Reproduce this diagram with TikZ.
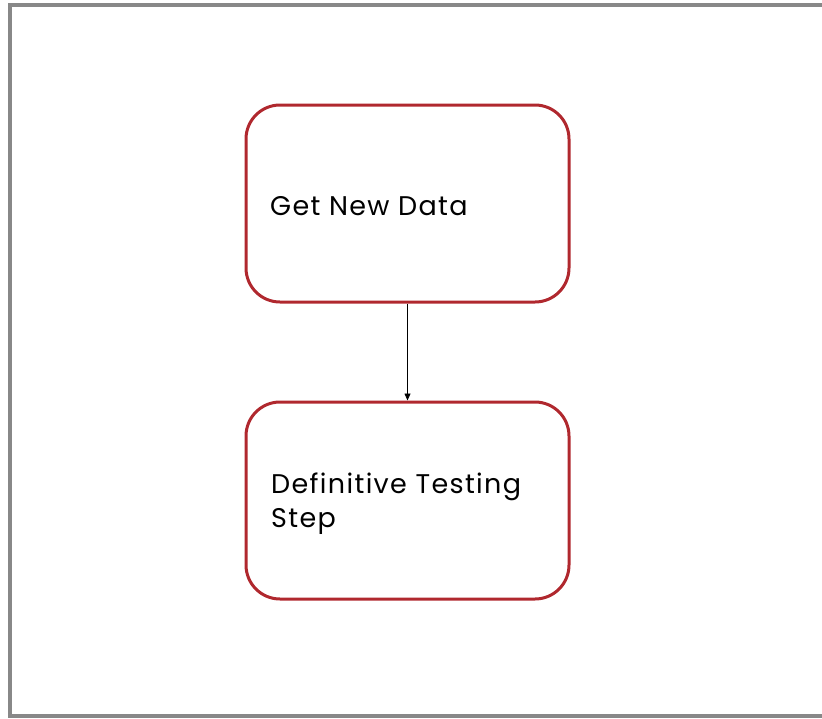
\documentclass[tikz,border=0pt]{standalone}
\usepackage{fontspec}
\setmainfont[LetterSpace=5]{Poppins}
\usetikzlibrary{arrows.meta}
\definecolor{frame}{HTML}{888888}
\definecolor{boxred}{HTML}{B0282E}
\tikzset{
  x=1pt, y=-1pt,
  stepbox/.style={draw=boxred, line width=3pt, rounded corners=34pt,
    minimum width=323pt, minimum height=197pt, inner sep=0pt},
  steptext/.style={font=\fontsize{27}{34}\selectfont, align=left, anchor=west, inner sep=0pt},
  link/.style={draw=black, line width=0.8pt, -{Triangle[length=7pt,width=6pt]}}
}
\begin{document}
\begin{tikzpicture}
  \useasboundingbox (0,0) rectangle (822,718);
  % outer frame (open on the right)
  \draw[frame, line width=4pt] (830,5) -- (10,5) -- (10,716) -- (830,716);
  % process steps
  \node[stepbox] (data) at (407.5,203.5) {};
  \node[stepbox] (test) at (407.5,500.5) {};
  \node[steptext] (datalbl) at (270,206.5) {Get New Data};
  \node[steptext] (testlbl) at (271,504) {Definitive Testing\\Step};
  % flow
  \draw[link] (data.south) -- (test.north);
\end{tikzpicture}
\end{document}
